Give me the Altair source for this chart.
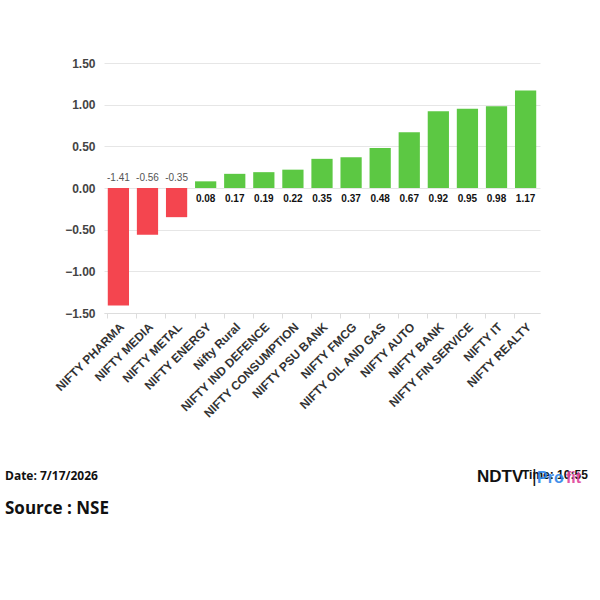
import altair as alt
import pandas as pd

sectors = ["NIFTY PHARMA", "NIFTY MEDIA", "NIFTY METAL", "NIFTY ENERGY", "Nifty Rural",
           "NIFTY IND DEFENCE", "NIFTY CONSUMPTION", "NIFTY PSU BANK", "NIFTY FMCG",
           "NIFTY OIL AND GAS", "NIFTY AUTO", "NIFTY BANK", "NIFTY FIN SERVICE",
           "NIFTY IT", "NIFTY REALTY"]
changes = [-1.41, -0.56, -0.35, 0.08, 0.17, 0.19, 0.22, 0.35, 0.37, 0.48, 0.67, 0.92, 0.95, 0.98, 1.17]
y_ticks = [-1.5, -1.0, -0.5, 0.0, 0.5, 1.0, 1.5]

df = pd.DataFrame({"sector": sectors, "change": changes})
df["label"] = [f"{v:.2f}" for v in changes]
df["zero"] = 0.0
df["sign"] = ["neg" if v < 0 else "pos" for v in changes]

x_enc = alt.X("sector:N", sort=sectors, title=None,
              scale=alt.Scale(paddingInner=0.27, paddingOuter=0.13),
              axis=alt.Axis(labelAngle=-45, labelFont="Liberation Sans", labelFontSize=12,
                            labelFontWeight="bold", labelColor="#333333", labelPadding=3,
                            domainColor="#dddddd", tickColor="#dddddd", tickSize=5,
                            bandPosition=0, grid=False, labelOverlap=False))
y_scale = alt.Scale(domain=[-1.5, 1.5], nice=False)

bars = alt.Chart(df).mark_bar().encode(
    x=x_enc,
    y=alt.Y("change:Q", scale=y_scale, title=None,
            axis=alt.Axis(values=y_ticks, format=".2f", labelFont="Liberation Sans",
                          labelFontSize=12, labelFontWeight="bold", labelColor="#444444",
                          domain=False, ticks=False, gridColor="#e6e6e6", labelPadding=9)),
    y2=alt.Y2("zero:Q"),
    color=alt.Color("sign:N", scale=alt.Scale(domain=["neg", "pos"], range=["#f4454f", "#5cc843"]),
                    legend=None),
)

neg_labels = alt.Chart(df).transform_filter("datum.change < 0").mark_text(
    dy=-10, font="Liberation Sans", fontSize=10, color="#555555"
).encode(x=alt.X("sector:N", sort=sectors), y=alt.Y("zero:Q", scale=y_scale), text="label:N")

pos_labels = alt.Chart(df).transform_filter("datum.change >= 0").mark_text(
    dy=11, font="Liberation Sans", fontSize=10, fontWeight="bold", color="#111111"
).encode(x=alt.X("sector:N", sort=sectors), y=alt.Y("zero:Q", scale=y_scale), text="label:N")

foot = pd.DataFrame({"t": [0]})
date_txt = alt.Chart(foot).mark_text(text="Date: 7/17/2026", align="left", baseline="middle",
                                     font="Open Sans", fontSize=12, fontWeight="bold",
                                     color="#111111").encode(x=alt.value(-99), y=alt.value(413))
src_txt = alt.Chart(foot).mark_text(text="Source : NSE", align="left", baseline="middle",
                                    font="Open Sans", fontSize=17, fontWeight="bold",
                                    color="#111111").encode(x=alt.value(-99), y=alt.value(446))
time_txt = alt.Chart(foot).mark_text(text="Time: 10:55", align="left", baseline="middle",
                                     font="Liberation Sans", fontSize=12, fontWeight="bold",
                                     color="#111111").encode(x=alt.value(418), y=alt.value(412))
ndtv_txt = alt.Chart(foot).mark_text(text="NDTV", align="left", baseline="middle",
                                     font="Liberation Sans", fontSize=17, fontWeight="bold",
                                     color="#111111").encode(x=alt.value(373), y=alt.value(414))
bar_txt = alt.Chart(foot).mark_text(text="|", align="left", baseline="middle",
                                    font="Liberation Sans", fontSize=18,
                                    color="#111111").encode(x=alt.value(428), y=alt.value(414))
pro_txt = alt.Chart(foot).mark_text(text="Pro", align="left", baseline="middle",
                                    font="Liberation Sans", fontSize=16, fontWeight="bold",
                                    color="#2f86e8", opacity=0.9).encode(x=alt.value(433), y=alt.value(415))
fit_txt = alt.Chart(foot).mark_text(text="fit", align="left", baseline="middle",
                                    font="Liberation Sans", fontSize=16, fontWeight="bold",
                                    color="#e0449a", opacity=0.9).encode(x=alt.value(462), y=alt.value(415))

chart = alt.layer(bars, neg_labels, pos_labels, date_txt, src_txt, time_txt, ndtv_txt, bar_txt,
                  pro_txt, fit_txt).properties(
    width=436, height=250,
    autosize=alt.AutoSizeParams(type="none"),
    padding={"left": 104, "top": 63, "right": 60, "bottom": 287},
    background="white",
).configure_view(stroke=None)

chart.save("out.html", embed_options={"renderer": "svg", "actions": False})
